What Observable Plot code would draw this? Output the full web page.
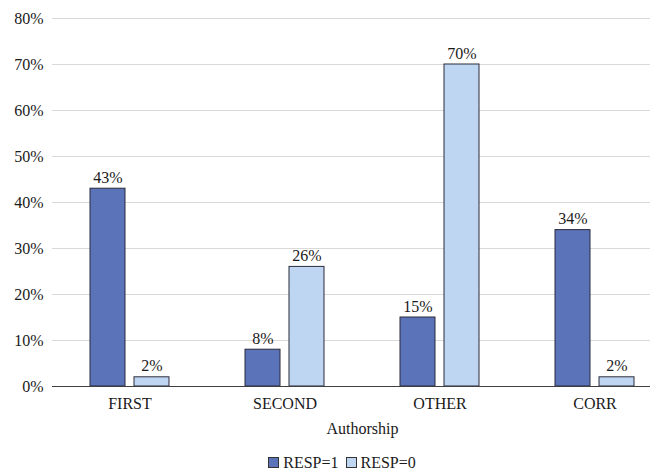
<!DOCTYPE html>
<html>
<head>
<meta charset="utf-8">
<script src="https://cdn.jsdelivr.net/npm/d3@7"></script>
<script src="https://cdn.jsdelivr.net/npm/@observablehq/plot@0.6"></script>
<style>
  body { margin: 0; background: #fff; font-family: "Liberation Serif", "Times New Roman", serif; }
  #chart svg, #chart svg text { font-family: "Liberation Serif", "Times New Roman", serif !important; }
  #legend { display: flex; justify-content: center; align-items: center; gap: 7px; font-size: 16px; line-height: 18px; color: #1a1a1a; margin-top: 8px; padding-left: 22px; }
  .sw { display: inline-block; width: 9px; height: 9px; border: 1px solid #333; margin-right: 4px; vertical-align: 0px; }
</style>
</head>
<body>
<div id="chart"></div>
<div id="legend"></div>
<script>
const categories = ["FIRST", "SECOND", "OTHER", "CORR"];
const seriesNames = ["RESP=1", "RESP=0"];
const resp1 = [43, 8, 15, 34];
const resp0 = [2, 26, 70, 2];
const colors = ["#5b73b8", "#bfd6f3"];
const yTicks = [0, 10, 20, 30, 40, 50, 60, 70, 80];

const data1 = categories.map((c, i) => ({cat: c, series: seriesNames[0], value: resp1[i]}));
const data0 = categories.map((c, i) => ({cat: c, series: seriesNames[1], value: resp0[i]}));

const font = "Liberation Serif";
const chart = Plot.plot({
  width: 662,
  height: 446,
  marginTop: 18,
  marginLeft: 52,
  marginRight: 12,
  marginBottom: 60,
  style: {fontFamily: "'Liberation Serif', serif", fontSize: "16px", color: "#1a1a1a"},
  x: {domain: categories, range: [52, 672], padding: 0},
  y: {domain: [0, 80], axis: null},
  color: {domain: seriesNames, range: colors},
  marks: [
    Plot.ruleY(yTicks.filter(d => d > 0), {stroke: "#d9d9d9"}),
    Plot.axisY(yTicks, {tickSize: 0, tickPadding: 9, tickFormat: d => d + "%", label: null, anchor: "left", fontSize: 16, fontFamily: font}),
    Plot.barY(data1, {x: "cat", y: "value", fill: "series", stroke: "#2b2b3a", strokeWidth: 1, insetLeft: 38, insetRight: 82}),
    Plot.barY(data0, {x: "cat", y: "value", fill: "series", stroke: "#2b2b3a", strokeWidth: 1, insetLeft: 82, insetRight: 38}),
    Plot.text(data1, {x: "cat", y: "value", text: d => d.value + "%", dx: -22, dy: -6, lineAnchor: "bottom", fontSize: 16, fontFamily: font, fill: "#1a1a1a"}),
    Plot.text(data0, {x: "cat", y: "value", text: d => d.value + "%", dx: 22, dy: -6, lineAnchor: "bottom", fontSize: 16, fontFamily: font, fill: "#1a1a1a"}),
    Plot.ruleY([0], {stroke: "#404040", strokeWidth: 1.2}),
    Plot.axisX({anchor: "bottom", tickSize: 0, tickPadding: 11, fontSize: 16, fontFamily: font, label: null}),
    Plot.text(["Authorship"], {frameAnchor: "bottom", text: d => d, dx: 11, dy: 47, fontSize: 16, fontFamily: font, fill: "#1a1a1a"})
  ]
});
document.getElementById("chart").appendChild(chart);

const legend = document.getElementById("legend");
seriesNames.forEach((s, i) => {
  const item = document.createElement("span");
  const sw = document.createElement("span");
  sw.className = "sw";
  sw.style.background = colors[i];
  item.appendChild(sw);
  item.appendChild(document.createTextNode(s));
  legend.appendChild(item);
});
</script>
</body>
</html>
